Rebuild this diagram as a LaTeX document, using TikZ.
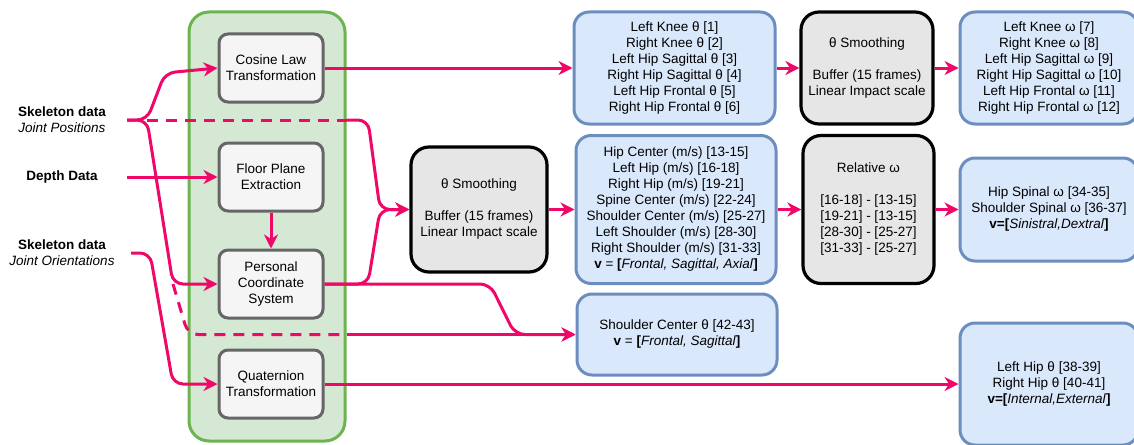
\documentclass[tikz,border=0pt]{standalone}
\usepackage{fontspec}
\setmainfont{Liberation Sans}
\usetikzlibrary{arrows.meta}

\definecolor{flowpink}{RGB}{240,8,105}
\definecolor{grpfill}{RGB}{213,232,212}
\definecolor{grpdraw}{RGB}{108,180,80}
\definecolor{stepfill}{RGB}{245,245,245}
\definecolor{stepdraw}{RGB}{102,102,102}
\definecolor{outfill}{RGB}{218,232,252}
\definecolor{outdraw}{RGB}{108,142,191}
\definecolor{filtfill}{RGB}{230,230,230}

\begin{document}
\begin{tikzpicture}[x=1pt,y=-1pt,
    font=\fontsize{13.5}{16}\selectfont,
    every node/.style={align=center,inner sep=0pt},
    src/.style={minimum width=130pt},
    stepbox/.style={draw=stepdraw,fill=stepfill,line width=3pt,rounded corners=9pt,
                    minimum width=104pt,minimum height=68pt},
    outbox/.style={draw=outdraw,fill=outfill,line width=3pt,rounded corners=15pt},
    filtbox/.style={draw=black,fill=filtfill,line width=3.2pt,rounded corners=18pt},
    flow/.style={draw=flowpink,line width=3pt,rounded corners=10pt},
    feed/.style={flow,-{Stealth[length=14pt,width=14pt]}},
    bypass/.style={flow,dash pattern=on 11pt off 8pt}]
\useasboundingbox (0,0) rectangle (1134,444);

% processing column
\node [draw=grpdraw,fill=grpfill,line width=3pt,rounded corners=20pt,
       minimum width=156pt,minimum height=429pt] (grp) at (267,226.5) {};
\path
    (271, 68) node [stepbox] (cos)   {Cosine Law\\Transformation}
    (271,177) node [stepbox] (floor) {Floor Plane\\Extraction}
    (271,284) node [stepbox] (pcs)   {Personal\\Coordinate\\System}
    (271,384) node [stepbox] (quat)  {Quaternion\\Transformation};

% inputs
\path
    (62,120) node [src]                     (jpos)  {\textbf{Skeleton data}\\\textit{Joint Positions}}
    (62,177) node [src]                     (depth) {\textbf{Depth Data}}
    (62,253) node [src,minimum width=138pt] (jori)  {\textbf{Skeleton data}\\\textit{Joint Orientations}};

% filters and outputs
\path
    (479,209.5) node [filtbox,minimum width=136pt,minimum height=125pt] (smooth1)
        {θ Smoothing\\[16pt]Buffer (15 frames)\\Linear Impact scale}
    (867,68)    node [filtbox,minimum width=132pt,minimum height=112pt] (smooth2)
        {θ Smoothing\\[16pt]Buffer (15 frames)\\Linear Impact scale}
    (868.5,209.5) node [filtbox,minimum width=131pt,minimum height=148pt] (relw)
        {Relative ω\\[16pt]{}[16-18] - [13-15]\\{}[19-21] - [13-15]\\{}[28-30] - [25-27]\\{}[31-33] - [25-27]};
\path
    (674.5,68)  node [outbox,minimum width=201pt,minimum height=112pt] (kneeT)
        {Left Knee θ [1]\\Right Knee θ [2]\\Left Hip Sagittal θ [3]\\Right Hip Sagittal θ [4]\\Left Hip Frontal θ [5]\\Right Hip Frontal θ [6]}
    (676,209.5) node [outbox,minimum width=200pt,minimum height=148pt] (vel)
        {Hip Center (m/s) [13-15]\\Left Hip (m/s) [16-18]\\Right Hip (m/s) [19-21]\\Spine Center (m/s) [22-24]\\Shoulder Center (m/s) [25-27]\\Left Shoulder (m/s) [28-30]\\Right Shoulder (m/s) [31-33]\\\textbf{v} = \textbf{[}\textit{Frontal, Sagittal, Axial}\textbf{]}}
    (677,334.5) node [outbox,minimum width=200pt,minimum height=81pt] (shT)
        {Shoulder Center θ [42-43]\\\textbf{v} = \textbf{[}\textit{Frontal, Sagittal}\textbf{]}}
    (1049,68)   node [outbox,minimum width=178pt,minimum height=112pt] (kneeW)
        {Left Knee ω [7]\\Right Knee ω [8]\\Left Hip Sagittal ω [9]\\Right Hip Sagittal ω [10]\\Left Hip Frontal ω [11]\\Right Hip Frontal ω [12]}
    (1049,209.5) node [outbox,minimum width=178pt,minimum height=103pt] (hipSp)
        {Hip Spinal ω [34-35]\\Shoulder Spinal ω [36-37]\\\textbf{v=[}\textit{Sinistral,Dextral}\textbf{]}}
    (1049,384)  node [outbox,minimum width=178pt,minimum height=122pt] (hipT)
        {Left Hip θ [38-39]\\Right Hip θ [40-41]\\\textbf{v=[}\textit{Internal,External}\textbf{]}};

% connectors
\coordinate (jfork) at (147,120);
\coordinate (pfork) at (173,284);
\draw[feed]   (jpos.east) -- (jfork) -- (165,73) -- (cos.west);
\draw[feed]   (jpos.east) -- (jfork) -- (pfork) -- (pcs.west);
\draw[bypass] (jfork) -- (grp.east |- jfork);
\draw[feed]   (grp.east |- jfork) -- (368,120) -- (380,209.5) -- (smooth1.west);
\draw[bypass] (pfork) -- (188,334.5) -- (grp.east |- shT.west);
\draw[feed]   (grp.east |- shT.west) -- (shT.west);
\draw[feed]   (depth.east) -- (floor.west);
\draw[feed]   (floor) -- (pcs);
\draw[feed]   (jori.east) -- (150,253) -- (173,384) -- (quat.west);
\draw[feed]   (pcs.east) -- (368,284) -- (380,209.5) -- (smooth1.west);
\draw[feed]   (pcs.east) -- (490,284) -- (515,334.5) -- (shT.west);
\draw[feed]   (cos) -- (kneeT);
\draw[feed]   (quat) -- (hipT);
\draw[feed]   (kneeT) -- (smooth2);
\draw[feed]   (smooth2) -- (kneeW);
\draw[feed]   (smooth1) -- (vel);
\draw[feed]   (vel) -- (relw);
\draw[feed]   (relw) -- (hipSp);
\end{tikzpicture}
\end{document}
